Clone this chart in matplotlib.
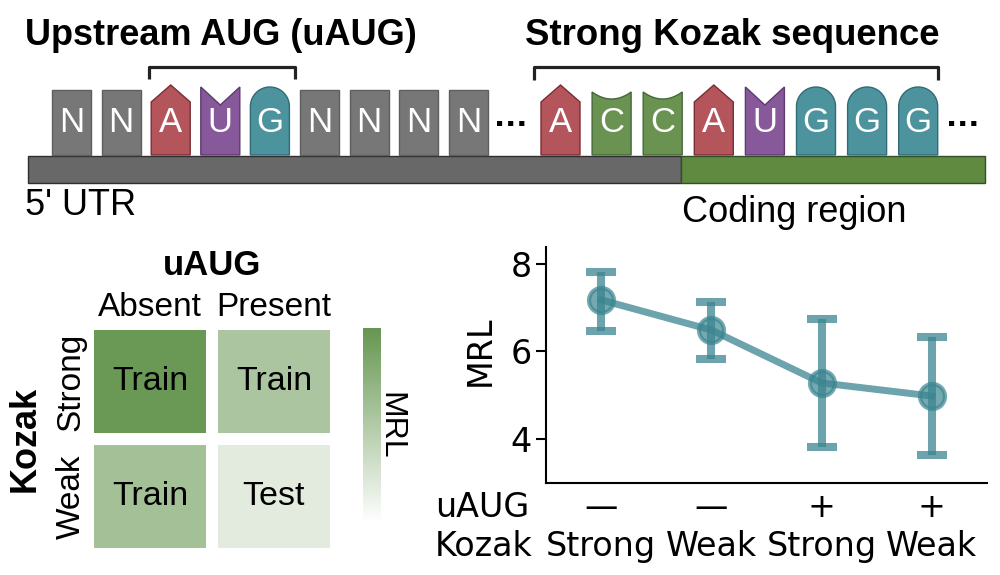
import numpy as np
import matplotlib
matplotlib.use('Agg')
import matplotlib.pyplot as plt
from matplotlib.patches import Polygon, Rectangle
from matplotlib.colors import LinearSegmentedColormap

# sequence diagram
utr_seq = ['N', 'N', 'A', 'U', 'G', 'N', 'N', 'N', 'N']
kozak_seq = ['A', 'C', 'C', 'A', 'U', 'G', 'G', 'G']
base_fill = {'N': '#777777', 'A': '#b4555c', 'U': '#87599b', 'G': '#4d939e', 'C': '#6a9250'}
base_edge = {'N': '#5e5e5e', 'A': '#7a2e36', 'U': '#5e3a70', 'G': '#2f6c75', 'C': '#45683a'}

# design grid (heatmap)
uaug_levels = ['Absent', 'Present']
kozak_levels = ['Strong', 'Weak']
cell_shade = [[0.97, 0.55],
              [0.60, 0.19]]
cell_split = [['Train', 'Train'],
              ['Train', 'Test']]

# MRL per group
group_uaug = ['—', '—', '+', '+']
group_kozak = ['Strong', 'Weak', 'Strong', 'Weak']
mrl_mean = [7.18, 6.49, 5.28, 4.98]
mrl_low = [6.47, 5.83, 3.82, 3.63]
mrl_high = [7.82, 7.13, 6.74, 6.33]

arial = 'Liberation Sans'
teal = '#3b8590'

fig = plt.figure(figsize=(10, 5.75), dpi=100)

# ---- overlay in pixel coordinates for the diagram ----
ax0 = fig.add_axes([0, 0, 1, 1])
ax0.set_xlim(0, 1000)
ax0.set_ylim(575, 0)
ax0.axis('off')


def draw_tile(ax, base, x0, w=39, bottom=155):
    x1 = x0 + w
    xc = x0 + w / 2
    if base == 'A':
        pts = [(x0, bottom), (x0, 102), (xc, 85), (x1, 102), (x1, bottom)]
    elif base == 'U':
        pts = [(x0, bottom), (x0, 87), (xc, 105), (x1, 87), (x1, bottom)]
    elif base == 'G':
        r = w / 2
        t = np.linspace(np.pi, 0, 40)
        pts = [(x0, bottom)] + [(xc + r * np.cos(a), 87 + r - r * np.sin(a)) for a in t] + [(x1, bottom)]
    elif base == 'C':
        u = np.linspace(-1, 1, 40)
        pts = [(x0, bottom)] + [(xc + v * w / 2, 92 + 7 * (1 - v * v)) for v in u] + [(x1, bottom)]
    else:
        pts = [(x0, bottom), (x0, 90), (x1, 90), (x1, bottom)]
    ax.add_patch(Polygon(pts, closed=True, facecolor=base_fill[base],
                         edgecolor=base_edge[base], lw=1, zorder=3))
    ax.text(xc, 123, base, color='white', fontsize=25, family=arial,
            ha='center', va='center', zorder=4)


for i, b in enumerate(utr_seq):
    draw_tile(ax0, b, 52 + i * 49.6)
for i, b in enumerate(kozak_seq):
    draw_tile(ax0, b, 541 + i * 51.1)

ax0.text(511, 118, '...', fontsize=21, fontweight='bold', ha='center', va='center')
ax0.text(963, 118, '...', fontsize=21, fontweight='bold', ha='center', va='center')

# UTR / coding bar
ax0.add_patch(Rectangle((28, 156), 653, 27, facecolor='#686868', edgecolor='#2e2e2e', lw=1, zorder=2))
ax0.add_patch(Rectangle((681, 156), 304, 27, facecolor='#5f8a3f', edgecolor='#33502a', lw=1, zorder=2))

# brackets
ax0.plot([149, 149, 295, 295], [79, 67, 67, 79], color='#222222', lw=2.3, solid_capstyle='butt')
ax0.plot([534, 534, 938, 938], [80, 67, 67, 80], color='#222222', lw=2.3, solid_capstyle='butt')

ax0.text(25, 45, 'Upstream AUG (uAUG)', fontsize=26, fontweight='bold', family=arial, va='baseline')
ax0.text(525, 45, 'Strong Kozak sequence', fontsize=26.4, fontweight='bold', family=arial, va='baseline')
ax0.text(25, 215, "5' UTR", fontsize=26, family=arial, va='baseline')
ax0.text(682, 222, 'Coding region', fontsize=26, family=arial, va='baseline')

# ---- heatmap ----
cmap = LinearSegmentedColormap.from_list('wg', ['#ffffff', '#659650'])
axh = fig.add_axes([0.088, (575 - 554) / 575, 0.248, 230 / 575])
axh.pcolormesh(np.array(cell_shade), cmap=cmap, vmin=0, vmax=1,
               edgecolors='white', linewidth=7.5)
axh.set_xlim(0, 2)
axh.set_ylim(2, 0)
for r in range(2):
    for c in range(2):
        axh.text(c + 0.5, r + 0.5, cell_split[r][c], ha='center', va='center',
                 fontsize=24.5, family=arial)
axh.set_xticks([0.5, 1.5], uaug_levels, fontsize=24, family=arial)
axh.set_yticks([0.5, 1.5], kozak_levels, fontsize=24, family=arial, rotation=90, va='center')
axh.xaxis.tick_top()
axh.xaxis.set_label_position('top')
axh.tick_params(length=0, pad=1)
axh.set_xlabel('uAUG', fontsize=25, fontweight='bold', family=arial, labelpad=12)
axh.set_ylabel('Kozak', fontsize=26, fontweight='bold', family=arial, labelpad=9)
for s in axh.spines.values():
    s.set_visible(False)

cax = fig.add_axes([0.363, (575 - 523) / 575, 0.018, 195 / 575])
sm = plt.cm.ScalarMappable(cmap=cmap, norm=plt.Normalize(0, 1))
cb = fig.colorbar(sm, cax=cax)
cb.set_ticks([])
cb.outline.set_visible(False)
cb.set_label('MRL', rotation=270, fontsize=23, family=arial, labelpad=-4, va='bottom')

# ---- MRL line plot ----
axl = fig.add_axes([0.546, 0.16, 0.441, 236 / 575])
xs = np.arange(len(mrl_mean))
mean = np.array(mrl_mean)
yerr = [mean - np.array(mrl_low), np.array(mrl_high) - mean]
axl.errorbar(xs, mean, yerr=yerr, fmt='none', ecolor=teal, elinewidth=5.8,
             capsize=11, capthick=5.8, alpha=0.75)
axl.plot(xs, mean, color=teal, lw=5, alpha=0.75)
axl.plot(xs, mean, 'o', color=teal, ms=18, mec=teal, mew=3, alpha=0.7)
axl.set_xlim(-0.5, 3.5)
axl.set_ylim(2.99, 8.39)
axl.set_yticks([4, 6, 8])
axl.set_xticks(xs, [u + '\n' + k for u, k in zip(group_uaug, group_kozak)], linespacing=1.2)
axl.tick_params(axis='both', labelsize=24, width=1.5)
axl.tick_params(axis='y', length=7)
axl.tick_params(axis='x', length=0, pad=6)
axl.set_ylabel('MRL', fontsize=24, labelpad=10, y=0.56)
axl.spines['top'].set_visible(False)
axl.spines['right'].set_visible(False)
axl.spines['left'].set_linewidth(1.5)
axl.spines['bottom'].set_linewidth(1.5)
axl.annotate('uAUG\nKozak', xy=(435, 0), xycoords=('figure pixels', 'axes fraction'),
             xytext=(0, -6), textcoords='offset points', ha='left', va='top',
             fontsize=24, linespacing=1.2)

fig.savefig('out.png', dpi=100)
